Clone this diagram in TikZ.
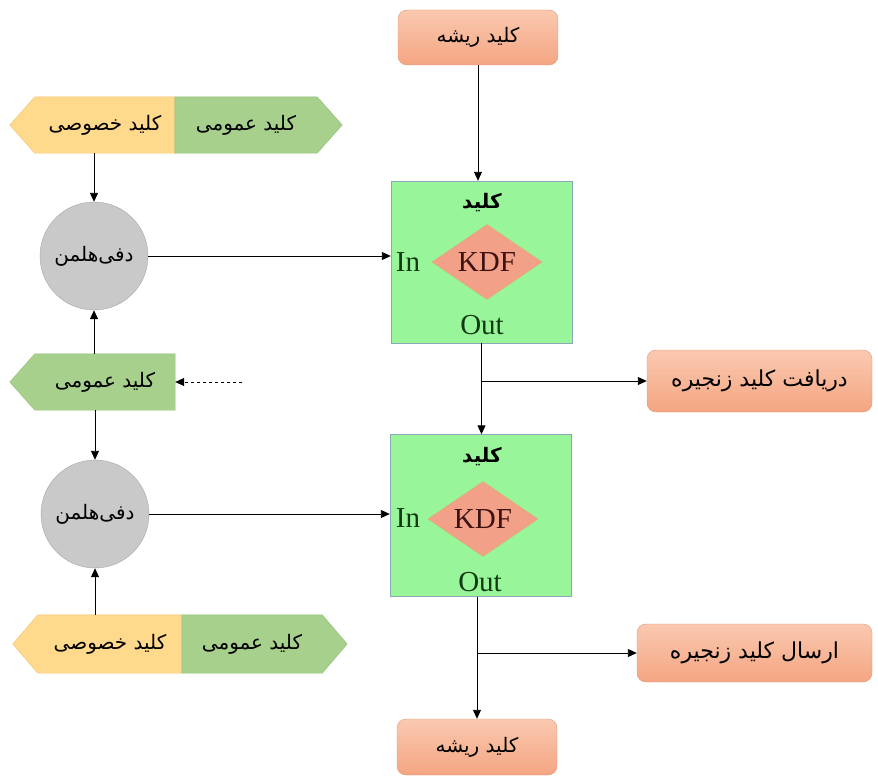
\documentclass[tikz,border=0pt]{standalone}
\usepackage{fontspec}
\setmainfont{Liberation Serif}
\newfontfamily\fa[Script=Arabic]{DejaVu Sans}
\TeXXeTstate=1
\usetikzlibrary{shapes.geometric,arrows.meta,backgrounds}

\definecolor{salmonT}{HTML}{FAC9B0}
\definecolor{salmonB}{HTML}{F4A582}
\definecolor{salmonE}{HTML}{E39877}
\definecolor{kdfgreen}{HTML}{98F59A}
\definecolor{kdfedge}{HTML}{8AA8B8}
\definecolor{diafill}{HTML}{F2A088}
\definecolor{diaedge}{HTML}{D9B070}
\definecolor{pubfill}{HTML}{A8D08D}
\definecolor{pubedge}{HTML}{90BC74}
\definecolor{privfill}{HTML}{FFD98C}
\definecolor{privedge}{HTML}{EEC46A}
\definecolor{dhfill}{HTML}{C9C9C9}
\definecolor{dhedge}{HTML}{A6A6A6}
\definecolor{inout}{HTML}{123A12}
\definecolor{kdftext}{HTML}{3C1212}

\begin{document}
\begin{tikzpicture}[x=1pt,y=-1pt,
  fatext/.style={font=\fa\fontsize{20}{24}\selectfont},
  keybox/.style={rectangle, rounded corners=9pt, draw=salmonE,
    top color=salmonT, bottom color=salmonB, fatext},
  chainbox/.style={keybox, font=\fa\fontsize{22}{26}\selectfont},
  kdfbox/.style={rectangle, draw=kdfedge, fill=kdfgreen,
    minimum width=181pt, minimum height=162pt, inner sep=0pt},
  kdfdia/.style={diamond, draw=diaedge, fill=diafill, aspect=1.47,
    minimum width=110pt, minimum height=75pt, inner sep=0pt,
    text=kdftext, font=\fontsize{29}{32}\selectfont},
  kdftitle/.style={font=\fa\bfseries\fontsize{20}{24}\selectfont},
  port/.style={text=inout, font=\fontsize{29}{32}\selectfont, inner sep=0pt},
  dhnode/.style={circle, fill=dhfill, draw=dhedge, minimum size=108pt,
    inner sep=0pt, fatext},
  half/.style={rectangle, inner sep=0pt, fatext},
  arr/.style={-{Triangle[length=9pt,width=8pt]}, line width=0.9pt, black},
]
\useasboundingbox (0,0) rectangle (878,776);

% root keys
\node[keybox, minimum width=160pt, minimum height=55pt] (root1) at (478,37.5) {\beginR کلید ریشه\endR};
\node[keybox, minimum width=160pt, minimum height=56pt] (root2) at (477,747) {\beginR کلید ریشه\endR};

% chain key outputs
\node[chainbox, minimum width=225pt, minimum height=62pt] (recv) at (759.5,381) {\beginR دریافت کلید زنجیره\endR};
\node[chainbox, minimum width=235pt, minimum height=58pt] (send) at (754.5,653) {\beginR ارسال کلید زنجیره\endR};

% KDF blocks
\node[kdfbox] (kdf1) at (481.5,262) {};
\node[kdftitle] (kdf1t) at (482,203) {\beginR کلید\endR};
\node[kdfdia] (kdf1d) at (487,262) {KDF};
\node[port] (kdf1in) at (408,262) {In};
\node[port] (kdf1out) at (482,325) {Out};

\node[kdfbox] (kdf2) at (480.5,515.5) {};
\node[kdftitle] (kdf2t) at (482,457) {\beginR کلید\endR};
\node[kdfdia] (kdf2d) at (483,519) {KDF};
\node[port] (kdf2in) at (408,518) {In};
\node[port] (kdf2out) at (480,582) {Out};

% Diffie-Hellman steps
\node[dhnode] (dh1) at (94,256) {\beginR دفی‌هلمن\endR};
\node[dhnode] (dh2) at (95,514) {\beginR دفی‌هلمن\endR};

% key pair labels
\node[half, minimum width=140pt, minimum height=56pt] (priv1) at (105,125) {\beginR کلید خصوصی\endR};
\node[half, minimum width=142pt, minimum height=56pt] (pub1) at (246,125) {\beginR کلید عمومی\endR};
\node[half, minimum width=140pt, minimum height=56pt] (pub2) at (105,382) {\beginR کلید عمومی\endR};
\node[half, minimum width=144pt, minimum height=58pt] (priv3) at (110,644) {\beginR کلید خصوصی\endR};
\node[half, minimum width=140pt, minimum height=58pt] (pub3) at (252,644) {\beginR کلید عمومی\endR};

\begin{pgfonlayer}{background}
  % top key pair
  \filldraw[fill=privfill, draw=privedge]
    (priv1.north west) -- (priv1.north east) -- (priv1.south east)
    -- (priv1.south west) -- ([xshift=-25pt]priv1.west) -- cycle;
  \filldraw[fill=pubfill, draw=pubedge]
    (pub1.north west) -- (pub1.north east) -- ([xshift=25pt]pub1.east)
    -- (pub1.south east) -- (pub1.south west) -- cycle;
  % middle public key
  \filldraw[fill=pubfill, draw=pubedge]
    (pub2.north west) -- (pub2.north east) -- (pub2.south east)
    -- (pub2.south west) -- ([xshift=-25pt]pub2.west) -- cycle;
  % bottom key pair
  \filldraw[fill=privfill, draw=privedge]
    (priv3.north west) -- (priv3.north east) -- (priv3.south east)
    -- (priv3.south west) -- ([xshift=-25pt]priv3.west) -- cycle;
  \filldraw[fill=pubfill, draw=pubedge]
    (pub3.north west) -- (pub3.north east) -- ([xshift=25pt]pub3.east)
    -- (pub3.south east) -- (pub3.south west) -- cycle;
\end{pgfonlayer}

\coordinate (dashstart) at (242,382);

% connectors
\draw[arr] (root1.south) -- (root1.south |- kdf1.north);
\draw[arr] (priv1.south -| dh1.north) -- (dh1.north);
\draw[arr] (dh1.east) -- (dh1.east -| kdf1.west);
\draw[arr] (pub2.north -| dh1.south) -- (dh1.south);
\draw[arr] (pub2.south -| dh2.north) -- (dh2.north);
\draw[arr, dashed] (dashstart) -- (pub2.east);
\draw[arr] (kdf1.south) -- (kdf1.south |- kdf2.north);
\draw[arr] (kdf1.south |- recv.west) -- (recv.west);
\draw[arr] (priv3.north -| dh2.south) -- (dh2.south);
\draw[arr] (dh2.east) -- (dh2.east -| kdf2.west);
\draw[arr] (kdf2.south -| root2.north) -- (root2.north);
\draw[arr] (root2.north |- send.west) -- (send.west);
\end{tikzpicture}
\end{document}
